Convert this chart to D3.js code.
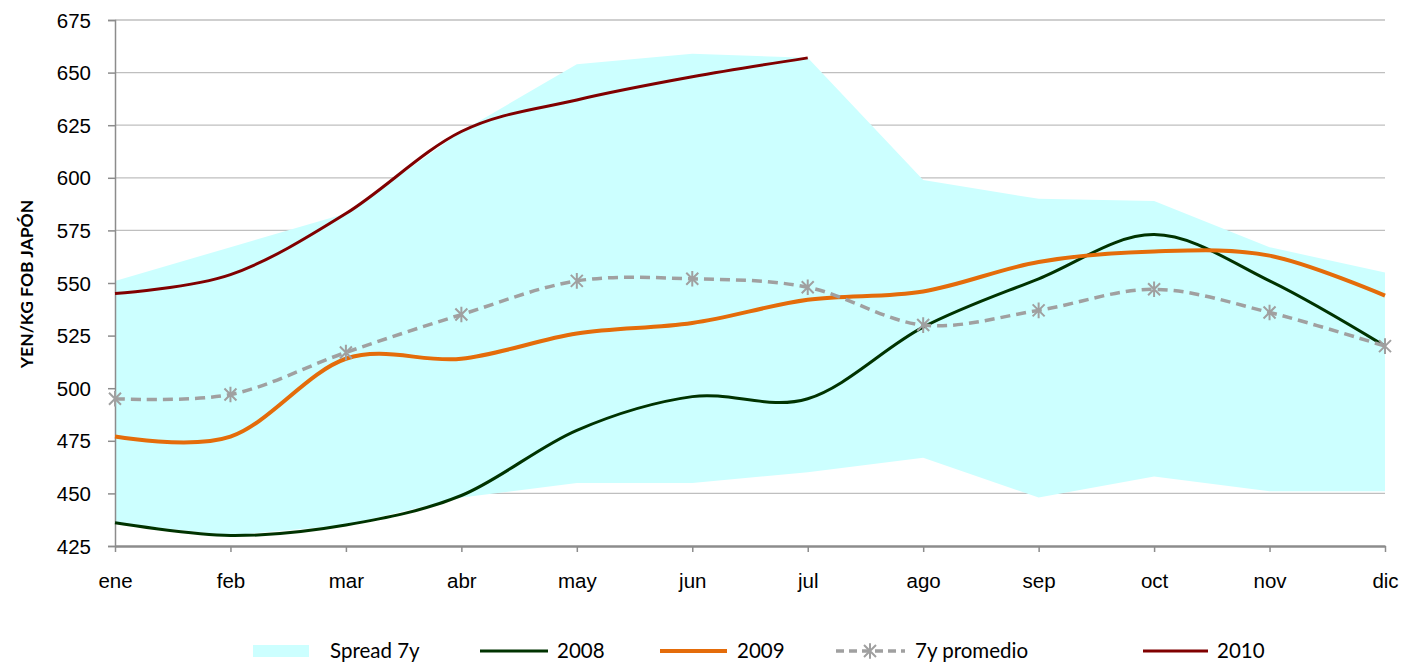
<!DOCTYPE html>
<html><head><meta charset="utf-8">
<script src="https://cdn.jsdelivr.net/npm/d3@7"></script>
<style>body{margin:0;background:#fff;}svg{display:block;font-family:Lato,"Open Sans",sans-serif;}</style>
</head><body><svg id="c" width="1401" height="666"></svg>
<script>
const months = ["ene","feb","mar","abr","may","jun","jul","ago","sep","oct","nov","dic"];
const spreadHigh = [551,567,583,622,654,659,657,599,590,589,567,555];
const spreadLow  = [436,430,435,448,455,455,460,467,448,458,451,451];
const y2008 = [436,430,435,449,480,496,495,529,552,573,551,520];
const y2009 = [477,477,514,514,526,531,542,546,560,565,563,544];
const avg7y = [495,497,517,535,551,552,548,530,537,547,536,520];
const y2010 = [545,554,583,622,637,648,657];
const yTicks = [425,450,475,500,525,550,575,600,625,650,675];

const svg = d3.select("#c");
const L=115, R=1385, T=20, B=546;
const FS = 20.5;
const x = d3.scalePoint().domain(months).range([L,R]);
const y = d3.scaleLinear().domain([425,675]).range([B,T]);

// gridlines
svg.append("g").selectAll("line").data(yTicks.slice(1)).join("line")
  .attr("x1",L).attr("x2",R).attr("y1",d=>y(d)).attr("y2",d=>y(d))
  .attr("stroke","#bfbfbf").attr("stroke-width",1.3);

// area
const area = d3.area().x((d,i)=>x(months[i])).y0((d,i)=>y(spreadLow[i])).y1(d=>y(d));
svg.append("path").datum(spreadHigh).attr("d",area).attr("fill","#ccffff");

// axes
const yAxis = svg.append("g").attr("transform",`translate(${L},0)`)
  .call(d3.axisLeft(y).tickValues(yTicks).tickSize(7).tickPadding(17));
yAxis.select(".domain").attr("stroke","#8c8c8c").attr("stroke-width",1.5);
yAxis.selectAll(".tick line").attr("stroke","#8c8c8c").attr("stroke-width",1.5);
yAxis.selectAll("text").attr("font-size",FS).attr("fill","#000").attr("dy","0.35em");

const xAxis = svg.append("g").attr("transform",`translate(0,${B})`)
  .call(d3.axisBottom(x).tickSize(6).tickPadding(21).tickSizeOuter(0));
xAxis.select(".domain").attr("stroke","#8c8c8c").attr("stroke-width",2.5);
xAxis.selectAll(".tick line").attr("stroke","#8c8c8c").attr("stroke-width",1.5);
xAxis.selectAll("text").attr("font-size",FS).attr("fill","#000");

// lines
const curve = d3.curveCardinal.tension(0);
const line = d3.line().x((d,i)=>x(months[i])).y(d=>y(d)).curve(curve);
svg.append("path").datum(y2008).attr("d",line).attr("fill","none").attr("stroke","#003300").attr("stroke-width",3);
svg.append("path").datum(y2009).attr("d",line).attr("fill","none").attr("stroke","#e46c0a").attr("stroke-width",4);
svg.append("path").datum(avg7y).attr("d",line).attr("fill","none").attr("stroke","#a0a0a0").attr("stroke-width",3.5).attr("stroke-dasharray","10,6");
function star(g,cx,cy,s){
  const p = `M${cx-s},${cy-s}L${cx+s},${cy+s}M${cx-s},${cy+s}L${cx+s},${cy-s}M${cx},${cy-s*1.3}L${cx},${cy+s*1.3}`;
  g.append("path").attr("d",p).attr("stroke","#a0a0a0").attr("stroke-width",2).attr("fill","none");
}
const mg = svg.append("g");
avg7y.forEach((d,i)=>star(mg,x(months[i]),y(d),6));
svg.append("path").datum(y2010).attr("d",line).attr("fill","none").attr("stroke","#800000").attr("stroke-width",3);

// y title
svg.append("text").attr("transform","translate(33,284) rotate(-90)").attr("text-anchor","middle")
  .attr("font-size",17.5).attr("font-weight","bold").attr("fill","#000").text("YEN/KG FOB JAPÓN");

// legend
const lg = svg.append("g").attr("font-size",FS).attr("fill","#000");
const ly = 651;
lg.append("rect").attr("x",253).attr("y",ly-6).attr("width",56).attr("height",12).attr("fill","#ccffff");
lg.append("text").attr("x",330).attr("y",ly).attr("dy","0.35em").text("Spread 7y");
lg.append("line").attr("x1",480).attr("x2",548).attr("y1",ly).attr("y2",ly).attr("stroke","#003300").attr("stroke-width",3);
lg.append("text").attr("x",557).attr("y",ly).attr("dy","0.35em").text("2008");
lg.append("line").attr("x1",660).attr("x2",727).attr("y1",ly).attr("y2",ly).attr("stroke","#e46c0a").attr("stroke-width",4);
lg.append("text").attr("x",737).attr("y",ly).attr("dy","0.35em").text("2009");
lg.append("line").attr("x1",836).attr("x2",905).attr("y1",ly).attr("y2",ly).attr("stroke","#a0a0a0").attr("stroke-width",3.5).attr("stroke-dasharray","8,5");
star(lg,870,ly,6);
lg.append("text").attr("x",915).attr("y",ly).attr("dy","0.35em").text("7y promedio");
lg.append("line").attr("x1",1143).attr("x2",1208).attr("y1",ly).attr("y2",ly).attr("stroke","#800000").attr("stroke-width",3);
lg.append("text").attr("x",1217).attr("y",ly).attr("dy","0.35em").text("2010");
</script></body></html>
